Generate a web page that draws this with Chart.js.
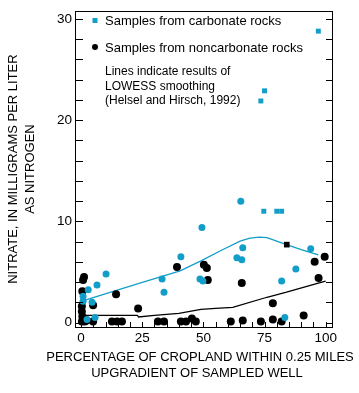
<!DOCTYPE html>
<html>
<head>
<meta charset="utf-8">
<script src="https://cdn.jsdelivr.net/npm/chart.js@4.4.1/dist/chart.umd.min.js"></script>
<style>
  html, body { margin: 0; padding: 0; background: #fff; }
  #wrap { width: 359px; height: 393px; }
</style>
</head>
<body>
<div id="wrap"><canvas id="nitrate" width="359" height="393"></canvas></div>
<script>
// samples from carbonate rocks (percent cropland, nitrate mg/L)
const carbX = [97, 75, 73.5, 74.7, 80, 82, 65.3, 49.4, 66.1, 63.7, 65.7, 93.9, 87.8, 82, 83.3,
  48.6, 49.8, 40.8, 33.1, 33.9, 10.2, 6.5, 2.9, 0.8, 0.8, 4.5, 2.4, 5.7];
const carbY = [28.8, 22.9, 21.9, 11.0, 11.0, 11.0, 12.0, 9.4, 7.4, 6.4, 6.2, 7.3, 5.3, 4.1, 0.5,
  4.3, 4.1, 6.5, 4.3, 3.0, 4.8, 3.7, 3.25, 2.6, 2.1, 2.0, 0.3, 0.5];

// samples from noncarbonate rocks
const noncarbX = [0.8, 1.2, 0.5, 4.9, 14.3, 0.3, 0.3, 0.5, 0.3, 1.5, 2.3, 4.9, 12.6, 14.7, 16.7,
  23.3, 31.4, 33.9, 39.2, 40.8, 42.9, 45.3, 46.9, 50.2, 51.4, 51.8, 61.2, 65.7, 66.1, 73.5,
  78.4, 78.4, 82, 84.1, 91, 95.5, 97.1, 99.6];
const noncarbY = [4.2, 4.5, 3.1, 1.7, 2.8, 1.6, 1.1, 0.6, 0.1, 0.1, 0.2, 0.1, 0.1, 0.1, 0.1,
  1.4, 0.1, 0.1, 5.5, 0.1, 0.1, 0.4, 0.1, 5.7, 5.4, 4.2, 0.1, 3.9, 0.2, 0.1,
  1.9, 0.3, 0.1, 7.7, 0.7, 6.0, 4.4, 6.5];

// LOWESS smooths
const carbLineX = [0, 24, 40.5, 49, 57, 65, 69, 73, 76, 84, 90, 97];
const carbLineY = [2.1, 3.9, 5.1, 6.1, 7.1, 8.05, 8.35, 8.45, 8.4, 7.7, 7.2, 6.7];
const noncarbLineX = [0, 23, 23.5, 30, 40, 49, 55, 62, 76, 84, 97, 100];
const noncarbLineY = [0.7, 0.7, 0.55, 0.7, 0.9, 1.3, 1.4, 1.5, 2.5, 3.0, 3.9, 4.1];

const xTicks = [0, 5, 10, 15, 20, 25, 30, 35, 40, 45, 50, 55, 60, 65, 70, 75, 80, 85, 90, 95, 100];
const yTicks = [0, 2, 4, 6, 8, 10, 12, 14, 16, 18, 20, 22, 24, 26, 28, 30];

const legendItems = ['Samples from carbonate rocks', 'Samples from noncarbonate rocks'];
const noteLines = ['Lines indicate results of', 'LOWESS smoothing', '(Helsel and Hirsch, 1992)'];
const xTitle = ['PERCENTAGE OF CROPLAND WITHIN 0.25 MILES', 'UPGRADIENT OF SAMPLED WELL'];
const yTitle = ['NITRATE, IN MILLIGRAMS PER LITER', 'AS NITROGEN'];

const CYAN = '#139ec9';
const FONT = "'Liberation Sans', Arial, Helvetica, sans-serif";

// the few marks drawn as squares in the original
const carbSquares = [0, 1, 2, 3, 4, 5];
const noncarbSquares = [33];

function pairs(xs, ys) {
  return xs.map(function (x, i) { return { x: x, y: ys[i] }; });
}

// box, inward tick marks, x title (wider than the plot) and the legend block
const framePlugin = {
  id: 'frame',
  afterDatasetsDraw(chart) {
    const ctx = chart.ctx;
    const a = chart.chartArea;
    const xs = chart.scales.x;
    const ys = chart.scales.y;
    ctx.save();
    ctx.strokeStyle = '#000';
    ctx.lineWidth = 1;
    ctx.strokeRect(Math.round(a.left) + 0.5, Math.round(a.top) + 0.5,
      Math.round(a.right - a.left) - 1, Math.round(a.bottom - a.top));

    ctx.beginPath();
    ys.ticks.forEach(function (t) {
      const py = Math.round(ys.getPixelForValue(t.value)) + 0.5;
      ctx.moveTo(a.left, py); ctx.lineTo(a.left + 8, py);
      ctx.moveTo(a.right, py); ctx.lineTo(a.right - 7, py);
    });
    xs.ticks.forEach(function (t) {
      const px = Math.round(xs.getPixelForValue(t.value)) + 0.5;
      ctx.moveTo(px, a.bottom); ctx.lineTo(px, a.bottom - 5);
    });
    ctx.stroke();

    ctx.fillStyle = '#000';
    ctx.font = '13px ' + FONT;
    ctx.textAlign = 'center';
    ctx.textBaseline = 'middle';
    ctx.fillText(xTitle[0], 200, 357);
    ctx.fillText(xTitle[1], 197, 373);

    // legend
    const lx = a.left + 20;
    ctx.fillStyle = CYAN;
    ctx.fillRect(lx - 2.5, 18, 5, 5);
    ctx.fillStyle = '#000';
    ctx.beginPath();
    ctx.arc(lx, 47, 3, 0, Math.PI * 2);
    ctx.fill();

    ctx.textAlign = 'left';
    ctx.textBaseline = 'alphabetic';
    ctx.font = '13px ' + FONT;
    ctx.fillText(legendItems[0], a.left + 30, 25);
    ctx.fillText(legendItems[1], a.left + 30, 52);
    ctx.font = '12px ' + FONT;
    noteLines.forEach(function (s, i) {
      ctx.fillText(s, a.left + 30, 75 + i * 14.5);
    });
    ctx.restore();
  }
};

new Chart(document.getElementById('nitrate'), {
  type: 'scatter',
  data: {
    datasets: [
      {
        label: 'carbonate LOWESS',
        data: pairs(carbLineX, carbLineY),
        showLine: true,
        borderColor: CYAN,
        borderWidth: 1.3,
        pointRadius: 0,
        fill: false,
        order: 3
      },
      {
        label: 'noncarbonate LOWESS',
        data: pairs(noncarbLineX, noncarbLineY),
        showLine: true,
        borderColor: '#000',
        borderWidth: 1.3,
        pointRadius: 0,
        fill: false,
        order: 4
      },
      {
        label: legendItems[1],
        data: pairs(noncarbX, noncarbY),
        backgroundColor: '#000',
        borderWidth: 0,
        pointRadius: 4,
        pointStyle: function (c) { return noncarbSquares.includes(c.dataIndex) ? 'rect' : 'circle'; },
        order: 2
      },
      {
        label: legendItems[0],
        data: pairs(carbX, carbY),
        backgroundColor: CYAN,
        borderWidth: 0,
        pointRadius: 3.5,
        pointStyle: function (c) { return carbSquares.includes(c.dataIndex) ? 'rect' : 'circle'; },
        order: 1
      }
    ]
  },
  options: {
    responsive: false,
    animation: false,
    devicePixelRatio: 1,
    layout: { padding: { top: 6, right: 26, left: 0, bottom: 0 } },
    plugins: { legend: { display: false }, tooltip: { enabled: false } },
    scales: {
      x: {
        type: 'linear',
        min: -2.5,
        max: 103,
        grid: { display: false, drawTicks: false },
        border: { display: false },
        afterBuildTicks: function (s) { s.ticks = xTicks.map(function (v) { return { value: v }; }); },
        afterFit: function (s) { s.height = 66; },
        ticks: {
          autoSkip: false,
          maxRotation: 0,
          padding: 3,
          color: '#000',
          font: { family: FONT, size: 13.5 },
          callback: function (v) { return v % 25 === 0 ? String(v) : ''; }
        }
      },
      y: {
        type: 'linear',
        min: -0.44,
        max: 30.78,
        grid: { display: false, drawTicks: false },
        border: { display: false },
        afterBuildTicks: function (s) { s.ticks = yTicks.map(function (v) { return { value: v }; }); },
        afterFit: function (s) { s.width = 75; },
        ticks: {
          autoSkip: false,
          padding: 3,
          color: '#000',
          font: { family: FONT, size: 13.5 },
          callback: function (v) { return v % 10 === 0 ? String(v) : ''; }
        },
        title: {
          display: true,
          text: yTitle,
          color: '#000',
          font: { family: FONT, size: 13, lineHeight: 17 / 13 },
          padding: { top: 4.5, bottom: 0 }
        }
      }
    }
  },
  plugins: [framePlugin]
});
</script>
</body>
</html>
